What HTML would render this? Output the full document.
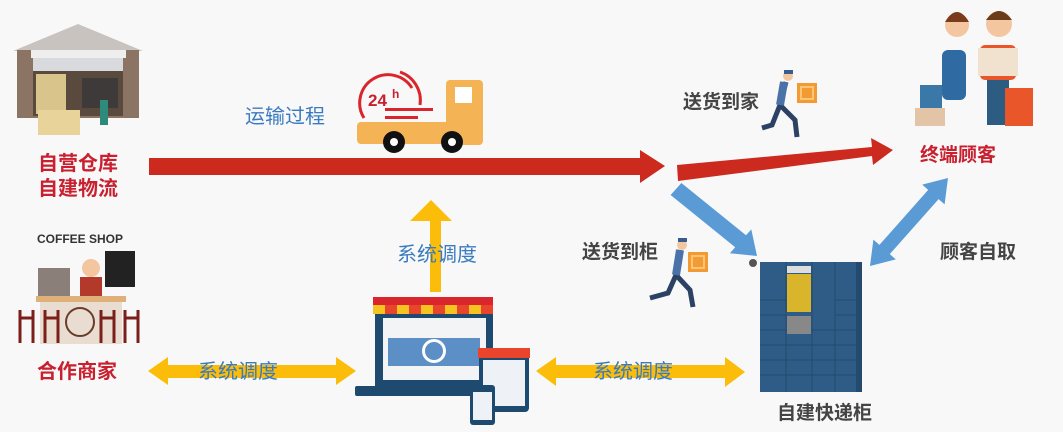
<!DOCTYPE html>
<html><head><meta charset="utf-8"><style>
html,body{margin:0;padding:0;background:#f8f8f8;}
svg{display:block;}
text{font-family:"Liberation Sans","Noto Sans CJK SC",sans-serif;font-weight:bold;}
</style></head><body>
<svg width="1063" height="432" viewBox="0 0 1063 432" xmlns="http://www.w3.org/2000/svg">
<rect width="1063" height="432" fill="#f8f8f8"/>
<!-- warehouse -->
<polygon points="13,51 78,24 143,51" fill="#c9c3c0"/>
<rect x="17" y="50" width="122" height="68" fill="#8b7463"/>
<rect x="31" y="50" width="95" height="8" fill="#eee"/>
<rect x="33" y="58" width="90" height="13" fill="#d8dadd"/>
<rect x="33" y="71" width="90" height="45" fill="#5a4a3e"/>
<rect x="36" y="74" width="30" height="40" fill="#d9c48c"/>
<rect x="38" y="110" width="42" height="25" fill="#e8d39a"/>
<rect x="82" y="78" width="36" height="30" fill="#3e3a3a"/>
<rect x="100" y="100" width="8" height="25" fill="#2e8a7a"/>
<!-- labels left -->
<text x="38" y="170" font-size="20" fill="#c8202f">自营仓库</text>
<text x="38" y="195" font-size="20" fill="#c8202f">自建物流</text>
<!-- red main arrow -->
<polygon points="149,158 640,158 640,150 665,166 640,183 640,175 149,175" fill="#cc2a1e"/>
<!-- truck -->
<rect x="446" y="80" width="37" height="65" rx="4" fill="#f4b455"/>
<rect x="455" y="87" width="17" height="16" fill="#fff"/>
<rect x="357" y="122" width="126" height="22" rx="4" fill="#f4b455"/>
<circle cx="394" cy="142" r="11" fill="#111"/><circle cx="394" cy="142" r="4" fill="#fff"/>
<circle cx="452" cy="142" r="11" fill="#111"/><circle cx="452" cy="142" r="4" fill="#fff"/>
<path d="M364,118 A24,24 0 0 1 412,88" stroke="#d9262c" stroke-width="3" fill="none"/>
<path d="M400,72 A30,30 0 0 1 420,105" stroke="#d9262c" stroke-width="3" fill="none"/>
<text x="368" y="106" font-size="17" fill="#c8202f">24</text>
<text x="392" y="98" font-size="12" fill="#c8202f">h</text>
<rect x="385" y="108" width="48" height="3" fill="#d9262c"/>
<rect x="385" y="116" width="33" height="3" fill="#d9262c"/>
<text x="245" y="123" font-size="20" fill="#3a7bbf" style="font-weight:normal">运输过程</text>
<!-- red arrow 2 -->
<polygon points="677,165 872,147 871,138 893,150 873,165 872,156 678,181" fill="#cc2a1e"/>
<!-- customers -->
<circle cx="957" cy="25" r="12" fill="#f3c6a0"/><path d="M945,22 Q957,2 969,22 Z" fill="#7a3a1c"/>
<circle cx="999" cy="24" r="13" fill="#f3c6a0"/><path d="M986,20 Q999,2 1012,20 Z" fill="#6b3b1b"/>
<rect x="942" y="50" width="24" height="50" rx="6" fill="#2f6aa3"/>
<rect x="980" y="45" width="36" height="35" rx="5" fill="#e8562a"/>
<rect x="978" y="48" width="40" height="28" fill="#f1e2cf"/>
<rect x="987" y="80" width="22" height="45" fill="#2d5c82"/>
<rect x="920" y="85" width="22" height="40" fill="#3a78a8"/>
<rect x="1005" y="88" width="28" height="38" fill="#e8562a"/>
<rect x="915" y="108" width="30" height="18" fill="#e3c4a6"/>
<text x="920" y="161" font-size="19" fill="#c8202f">终端顾客</text>
<!-- blue arrows -->
<polygon points="681.4,183 746,235.3 751.3,229.4 757,256 729.9,253.2 735.2,247.3 670.6,195" fill="#5a9bd6"/>
<polygon points="948,178 944.6,204.4 938.6,199.1 889.8,254.1 895.8,259.4 870,266 873.4,239.6 879.4,244.9 928.2,189.9 922.2,184.6" fill="#5a9bd6"/>
<text x="940" y="258" font-size="19" fill="#444">顾客自取</text>
<!-- couriers -->
<text x="683" y="108" font-size="19" fill="#444">送货到家</text>
<circle cx="788" cy="76" r="5" fill="#f3c6a0"/><rect x="784" y="70" width="9" height="4" fill="#3a5d8f"/>
<path d="M786,82 L780,105 L772,125 L762,128 M780,105 L795,120 L797,137" stroke="#2b4264" stroke-width="5" fill="none"/>
<path d="M784,82 L780,105" stroke="#4a72a8" stroke-width="8"/>
<rect x="797" y="83" width="20" height="20" fill="#f39a33"/><rect x="801" y="87" width="12" height="12" fill="none" stroke="#fbc777" stroke-width="2"/>
<text x="582" y="258" font-size="19" fill="#444">送货到柜</text>
<circle cx="682" cy="245" r="5" fill="#f3c6a0"/><rect x="678" y="238" width="9" height="4" fill="#3a5d8f"/>
<path d="M680,250 L676,275 L668,293 L650,298 M676,275 L690,290 L693,307" stroke="#2b4264" stroke-width="5" fill="none"/>
<path d="M680,250 L676,275" stroke="#4a72a8" stroke-width="8"/>
<rect x="688" y="252" width="20" height="20" fill="#f39a33"/><rect x="692" y="256" width="12" height="12" fill="none" stroke="#fbc777" stroke-width="2"/>
<!-- locker -->
<rect x="760" y="262" width="100" height="130" fill="#2f5c87"/>
<rect x="856" y="262" width="6" height="130" fill="#244a6e"/>
<g stroke="#244a6e" stroke-width="1">
<line x1="786" y1="262" x2="786" y2="392"/><line x1="812" y1="262" x2="812" y2="392"/><line x1="835" y1="262" x2="835" y2="392"/>
<line x1="760" y1="300" x2="786" y2="300"/><line x1="760" y1="315" x2="786" y2="315"/><line x1="760" y1="330" x2="860" y2="330"/><line x1="760" y1="345" x2="860" y2="345"/><line x1="760" y1="360" x2="860" y2="360"/><line x1="760" y1="375" x2="860" y2="375"/><line x1="835" y1="300" x2="860" y2="300"/><line x1="835" y1="315" x2="860" y2="315"/>
</g>
<rect x="787" y="266" width="24" height="7" fill="#ddd"/>
<rect x="787" y="274" width="24" height="38" fill="#d8b52a"/>
<rect x="787" y="316" width="24" height="18" fill="#888"/>
<circle cx="753" cy="263" r="4" fill="#555"/>
<text x="777" y="419" font-size="19" fill="#444">自建快递柜</text>
<!-- yellow up arrow -->
<polygon points="430,292 430,221 410,221 431,200 452,221 441,221 441,292" fill="#fbbd0a"/>
<text x="397" y="261" font-size="20" fill="#3a7bbf" style="font-weight:normal">系统调度</text>
<!-- laptop store -->
<rect x="375" y="312" width="118" height="75" fill="#1f4a70"/>
<rect x="383" y="318" width="103" height="62" fill="#f2f4f6"/>
<rect x="388" y="338" width="92" height="28" fill="#5b8fc6"/>
<circle cx="434" cy="351" r="12" fill="#fff"/><circle cx="434" cy="351" r="9" fill="#5b8fc6"/>
<rect x="355" y="386" width="150" height="10" rx="2" fill="#1f4a70"/>
<rect x="373" y="297" width="120" height="8" fill="#d9262c"/>
<g fill="#f7c320"><rect x="373" y="305" width="12" height="9"/><rect x="397" y="305" width="12" height="9"/><rect x="421" y="305" width="12" height="9"/><rect x="445" y="305" width="12" height="9"/><rect x="469" y="305" width="12" height="9"/></g>
<g fill="#e8452c"><rect x="385" y="305" width="12" height="9"/><rect x="409" y="305" width="12" height="9"/><rect x="433" y="305" width="12" height="9"/><rect x="457" y="305" width="12" height="9"/><rect x="481" y="305" width="12" height="9"/></g>
<rect x="479" y="348" width="50" height="64" rx="4" fill="#1f4a70"/>
<rect x="483" y="360" width="42" height="46" fill="#eef2f6"/>
<rect x="478" y="348" width="52" height="10" fill="#e8452c"/>
<rect x="470" y="385" width="25" height="40" rx="3" fill="#1f4a70"/>
<rect x="473" y="392" width="19" height="28" fill="#eef2f6"/>
<!-- coffee shop -->
<text x="37" y="243" font-size="12" fill="#333">COFFEE SHOP</text>
<rect x="105" y="251" width="30" height="36" fill="#222"/>
<rect x="38" y="268" width="32" height="28" fill="#8a8079"/>
<circle cx="91" cy="268" r="9" fill="#f3c6a0"/>
<rect x="80" y="277" width="22" height="20" fill="#b33a2a"/>
<rect x="36" y="296" width="90" height="6" fill="#e0b07a"/>
<rect x="40" y="302" width="82" height="42" fill="#e8ddd0"/>
<circle cx="80" cy="322" r="14" fill="none" stroke="#6b3b2a" stroke-width="2"/>
<g stroke="#7a1f1a" stroke-width="3" fill="none">
<path d="M20,310 L20,343 M33,310 L33,343 M20,318 L33,318"/>
<path d="M45,310 L45,343 M58,310 L58,343 M45,318 L58,318"/>
<path d="M101,310 L101,343 M114,310 L114,343 M101,318 L114,318"/>
<path d="M125,310 L125,343 M138,310 L138,343 M125,318 L138,318"/>
</g>
<text x="37" y="378" font-size="20" fill="#c8202f">合作商家</text>
<!-- yellow double arrows -->
<polygon points="148,371 168,357 168,365 336,365 336,357 356,371 336,385 336,378 168,378 168,385" fill="#fbbd0a"/>
<text x="198" y="378" font-size="20" fill="#3a7bbf" style="font-weight:normal">系统调度</text>
<polygon points="536,371 556,357 556,365 725,365 725,357 745,372 725,387 725,378 556,378 556,386" fill="#fbbd0a"/>
<text x="593" y="378" font-size="20" fill="#3a7bbf" style="font-weight:normal">系统调度</text>
</svg>
</body></html>
